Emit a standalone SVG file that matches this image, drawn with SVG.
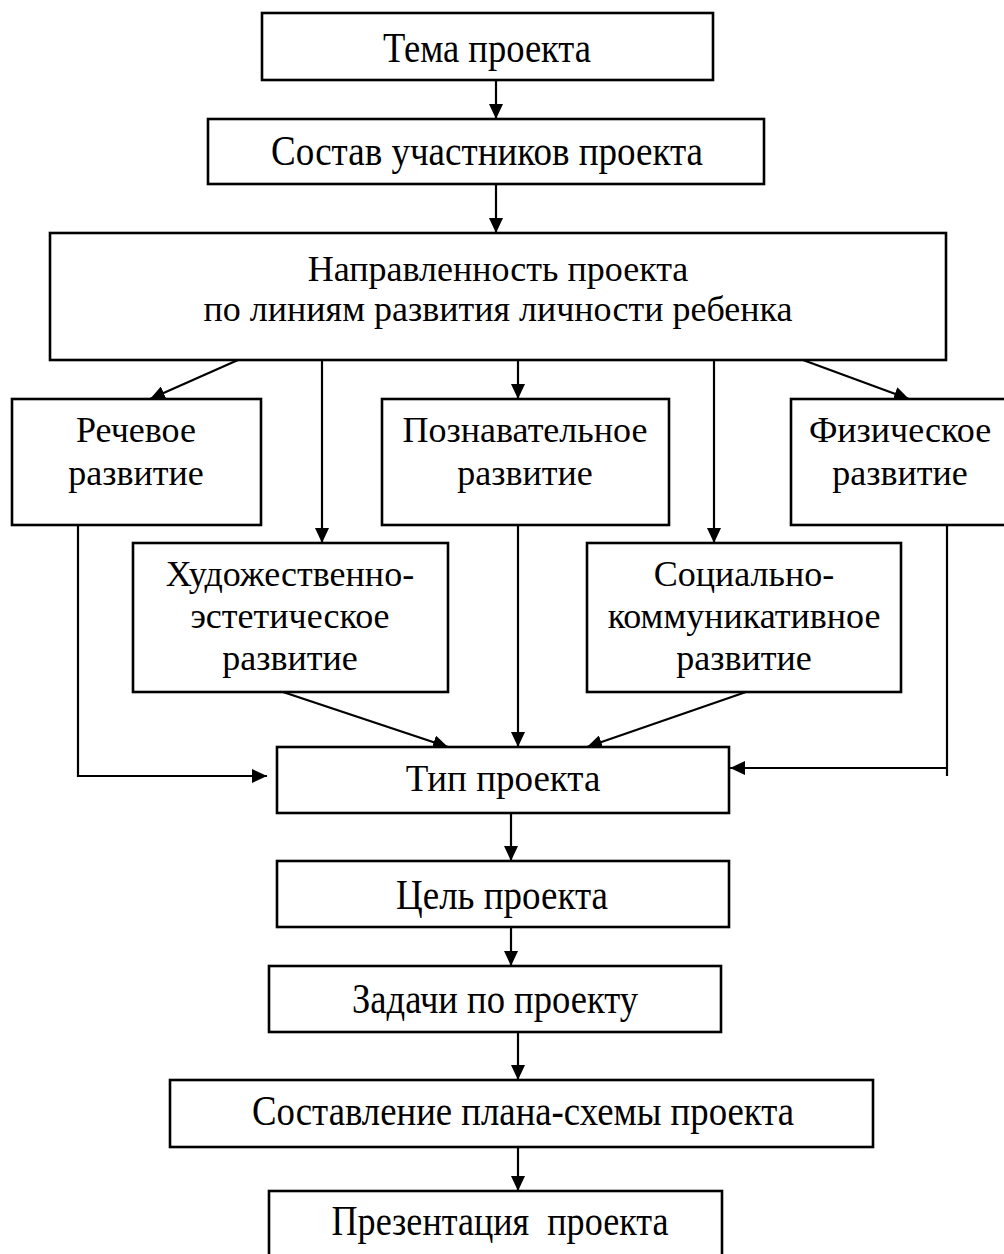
<svg xmlns="http://www.w3.org/2000/svg" width="1004" height="1254" viewBox="0 0 1004 1254">
<style>
.box{fill:#fff;stroke:#000;stroke-width:2.6}
.t{font-family:"Liberation Serif","Times New Roman",serif;font-size:36px;fill:#000;text-anchor:middle}
.tc{font-family:"Liberation Serif","Times New Roman",serif;font-size:42px;fill:#000;text-anchor:middle}
.c{stroke:#000;stroke-width:2.2;fill:none}
</style>
<defs>
<marker id="ah" markerUnits="userSpaceOnUse" markerWidth="16" markerHeight="14" refX="15" refY="7" orient="auto">
<path d="M0,0 L15,7 L0,14 z" fill="#000"/>
</marker>
</defs>
<rect width="1004" height="1254" fill="#fff"/>
<g id="connectors">
<line class="c" x1="496" y1="80" x2="496" y2="119" marker-end="url(#ah)"/>
<line class="c" x1="496" y1="184" x2="496" y2="233" marker-end="url(#ah)"/>
<line class="c" x1="238" y1="360" x2="150" y2="399" marker-end="url(#ah)"/>
<line class="c" x1="322" y1="360" x2="322" y2="543" marker-end="url(#ah)"/>
<line class="c" x1="518" y1="360" x2="518" y2="399" marker-end="url(#ah)"/>
<line class="c" x1="714" y1="360" x2="714" y2="543" marker-end="url(#ah)"/>
<line class="c" x1="803" y1="360" x2="909" y2="399" marker-end="url(#ah)"/>
<line class="c" x1="283" y1="692" x2="448" y2="747" marker-end="url(#ah)"/>
<line class="c" x1="518" y1="525" x2="518" y2="747" marker-end="url(#ah)"/>
<line class="c" x1="746" y1="692" x2="587" y2="747" marker-end="url(#ah)"/>
<polyline class="c" points="78,525 78,776 267,776" marker-end="url(#ah)"/>
<line class="c" x1="947" y1="525" x2="947" y2="776"/>
<line class="c" x1="947" y1="768" x2="730" y2="768" marker-end="url(#ah)"/>
<line class="c" x1="511" y1="813" x2="511" y2="861" marker-end="url(#ah)"/>
<line class="c" x1="511" y1="927" x2="511" y2="966" marker-end="url(#ah)"/>
<line class="c" x1="518" y1="1032" x2="518" y2="1080" marker-end="url(#ah)"/>
<line class="c" x1="518" y1="1147" x2="518" y2="1191" marker-end="url(#ah)"/>
</g>
<g id="n-tema"><rect class="box" x="262" y="13" width="451" height="67"/><text class="tc" x="487" y="62" textLength="208" lengthAdjust="spacingAndGlyphs">Тема проекта</text></g>
<g id="n-sostav"><rect class="box" x="208" y="119" width="556" height="65"/><text class="tc" x="487" y="165" textLength="432" lengthAdjust="spacingAndGlyphs">Состав участников проекта</text></g>
<g id="n-napr"><rect class="box" x="50" y="233" width="896" height="127"/><text class="t" x="498" y="281">Направленность проекта</text><text class="t" x="498" y="321">по линиям развития личности ребенка</text></g>
<g id="n-rech"><rect class="box" x="12" y="399" width="249" height="126"/><text class="t" x="136" y="442">Речевое</text><text class="t" x="136" y="485">развитие</text></g>
<g id="n-pozn"><rect class="box" x="382" y="399" width="287" height="126"/><text class="t" x="525" y="442">Познавательное</text><text class="t" x="525" y="485">развитие</text></g>
<g id="n-fiz"><rect class="box" x="791" y="399" width="220" height="126"/><text class="t" x="900" y="442">Физическое</text><text class="t" x="900" y="485">развитие</text></g>
<g id="n-hud"><rect class="box" x="133" y="543" width="315" height="149"/><text class="t" x="290" y="586">Художественно-</text><text class="t" x="290" y="628">эстетическое</text><text class="t" x="290" y="670">развитие</text></g>
<g id="n-soc"><rect class="box" x="587" y="543" width="314" height="149"/><text class="t" x="744" y="586">Социально-</text><text class="t" x="744" y="628">коммуникативное</text><text class="t" x="744" y="670">развитие</text></g>
<g id="n-tip"><rect class="box" x="277" y="747" width="452" height="66"/><text class="t" x="503" y="791" style="font-size:37px">Тип проекта</text></g>
<g id="n-cel"><rect class="box" x="277" y="861" width="452" height="66"/><text class="tc" x="502" y="909" textLength="212" lengthAdjust="spacingAndGlyphs">Цель проекта</text></g>
<g id="n-zad"><rect class="box" x="269" y="966" width="452" height="66"/><text class="tc" x="495" y="1013" textLength="286" lengthAdjust="spacingAndGlyphs">Задачи по проекту</text></g>
<g id="n-plan"><rect class="box" x="170" y="1080" width="703" height="67"/><text class="tc" x="523" y="1125" textLength="542" lengthAdjust="spacingAndGlyphs">Составление плана-схемы проекта</text></g>
<g id="n-prez"><rect class="box" x="269" y="1191" width="453" height="70"/><text class="tc" x="500" y="1235" textLength="337" lengthAdjust="spacingAndGlyphs" xml:space="preserve">Презентация  проекта</text></g>
</svg>
